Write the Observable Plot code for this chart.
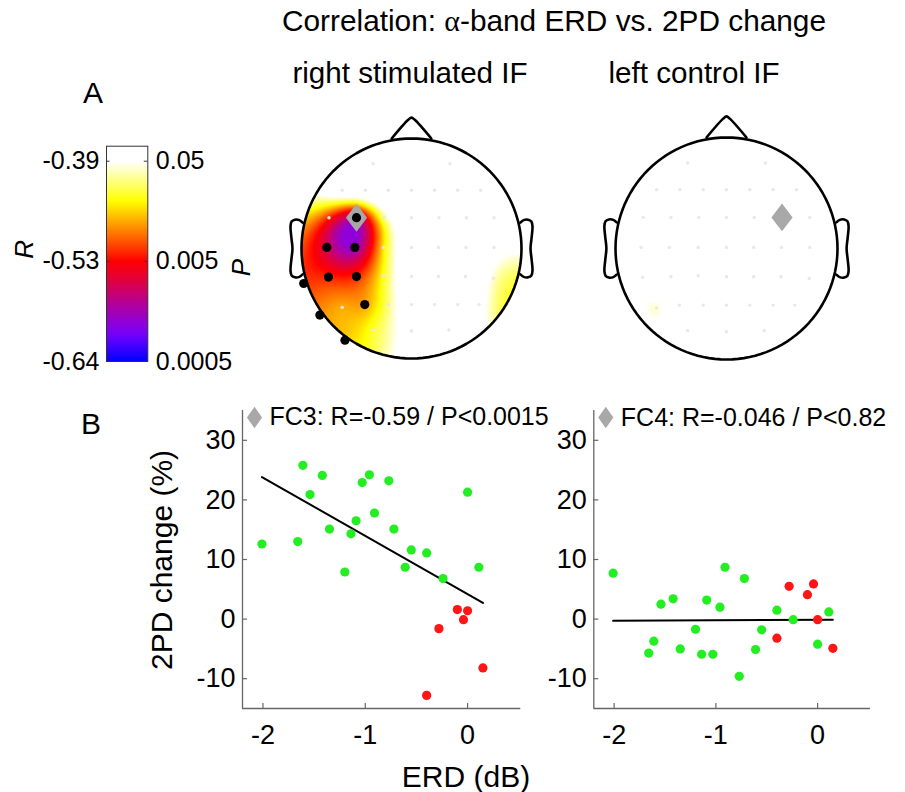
<!DOCTYPE html>
<html>
<head>
<meta charset="utf-8">
<script src="https://cdn.jsdelivr.net/npm/d3@7"></script>
<script src="https://cdn.jsdelivr.net/npm/@observablehq/plot@0.6"></script>
<style>
  body { margin: 0; background: #fff; }
  #fig { position: relative; width: 905px; height: 792px; overflow: hidden; background: #fff;
         font-family: "Liberation Sans", Arial, sans-serif; color: #000; }
  .t { position: absolute; white-space: nowrap; line-height: 1; }
  .c { transform: translateX(-50%); }
  .rot { transform: translate(-50%, -50%) rotate(-90deg); }
  .p { position: absolute; }
  .p svg { overflow: visible; display: block; }
  .greek { font-family: "Liberation Serif", "DejaVu Serif", serif; }
</style>
</head>
<body>
<div id="fig"></div>
<script>
// ---------------- data ----------------
// scatter (26 subjects, sorted by ERD)
const erd = [-2.01,-1.66,-1.61,-1.54,-1.42,-1.35,-1.20,-1.14,-1.09,-1.03,-0.96,-0.91,-0.77,-0.72,-0.61,-0.55,-0.40,-0.24,0.00,0.11,
             -0.40,-0.28,-0.10,-0.04,0.00,0.15];
const subjectGroup = ["g","g","g","g","g","g","g","g","g","g","g","g","g","g","g","g","g","g","g","g",
                      "r","r","r","r","r","r"];
const changeStimulated = [12.6,13.0,25.8,20.9,24.1,15.1,7.9,14.3,16.5,22.9,24.2,17.8,23.2,15.1,8.7,11.6,11.1,6.8,21.3,8.7,
                          -12.8,-1.6,1.6,-0.1,1.4,-8.2];
const changeControl = [7.7,-5.7,-3.7,2.5,3.4,-5.0,-1.7,-5.9,3.2,-5.9,2.0,8.7,-9.6,6.8,-5.1,-1.8,1.5,-0.1,-4.2,1.2,
                       -3.2,5.5,4.1,5.9,-0.1,-4.9];
const xTicks = [-2, -1, 0];
const xTickLabels = ["-2", "-1", "0"];
const yTicks = [-10, 0, 10, 20, 30];
const yTickLabels = ["-10", "0", "10", "20", "30"];
const statLabels = ["FC3: R=-0.59 / P<0.0015", "FC4: R=-0.046 / P<0.82"];
const panelTitles = ["right stimulated IF", "left control IF"];

// electrodes (head-radius units, x = right, y = front)
const electrodeNames = ["AF3","AF4",
  "F5","F3","F1","Fz","F2","F4","F6",
  "FC5","FC3","FC1","FCz","FC2","FC4","FC6",
  "C5","C3","C1","Cz","C2","C4","C6",
  "CP5","CP3","CP1","CPz","CP2","CP4","CP6",
  "P5","P3","P1","Pz","P2","P4","P6",
  "PO3","POz","PO4",
  "Fp1","Fpz","Fp2","AF7","AF8","F7","F8","FT7","FT8","T7","T8","TP7","TP8","P7","P8","PO7","PO8","O1","Oz","O2"];
const electrodeX = [-0.35,0.35,
  -0.63,-0.42,-0.21,0,0.21,0.42,0.63,
  -0.75,-0.5,-0.25,0,0.25,0.5,0.75,
  -0.77,-0.515,-0.255,0,0.245,0.495,0.75,
  -0.755,-0.5,-0.255,0,0.245,0.49,0.745,
  -0.63,-0.425,-0.21,0,0.21,0.42,0.615,
  -0.35,0,0.34,
  -0.318,0,0.318,-0.605,0.605,-0.833,0.833,-0.98,0.98,-1.03,1.03,-0.98,0.98,-0.833,0.833,-0.605,0.605,-0.318,0,0.318];
const electrodeY = [0.77,0.77,
  0.53,0.53,0.53,0.53,0.53,0.53,0.53,
  0.28,0.28,0.28,0.28,0.28,0.28,0.28,
  0.01,0.01,0.01,0.01,0.01,0.01,0.01,
  -0.26,-0.255,-0.245,-0.255,-0.255,-0.255,-0.27,
  -0.535,-0.51,-0.51,-0.51,-0.51,-0.51,-0.51,
  -0.74,-0.75,-0.74,
  0.98,1.03,0.98,0.833,0.833,0.605,0.605,0.318,0.318,0,0,-0.318,-0.318,-0.605,-0.605,-0.833,-0.833,-0.98,-1.03,-0.98];
// p value of the correlation at each electrode
const pStimulated = [0.3,0.4,
  0.15,0.18,0.25,0.35,0.4,0.35,0.3,
  0.006,0.0012,0.035,0.15,0.3,0.35,0.2,
  0.003,0.0012,0.02,0.13,0.3,0.25,0.07,
  0.0065,0.0065,0.022,0.12,0.25,0.18,0.04,
  0.014,0.011,0.03,0.12,0.22,0.15,0.07,
  0.025,0.08,0.15,
  0.3,0.4,0.4,0.2,0.3,0.09,0.2,0.02,0.15,0.008,0.06,0.0065,0.025,0.011,0.025,0.015,0.08,0.029,0.1,0.15];
const pControl = [0.45,0.6,
  0.35,0.5,0.7,0.85,0.75,0.6,0.55,
  0.3,0.55,0.8,0.9,0.7,0.82,0.6,
  0.2,0.4,0.65,0.85,0.7,0.75,0.5,
  0.1,0.25,0.5,0.7,0.6,0.55,0.4,
  0.032,0.13,0.35,0.55,0.5,0.45,0.35,
  0.2,0.45,0.4,
  0.5,0.7,0.65,0.4,0.5,0.35,0.45,0.3,0.4,0.2,0.35,0.13,0.3,0.087,0.3,0.087,0.35,0.25,0.4,0.45];
const significantStimulated = ["FC3","C5","C3","CP5","CP3","P3","TP7","P7","PO7"];
const significantControl = [];
const markedElectrodes = ["FC3", "FC4"];

// colour bar
const pTicks = [0.05, 0.005, 0.0005];
const pTickLabels = ["0.05", "0.005", "0.0005"];
const rTickLabels = ["-0.39", "-0.53", "-0.64"];
const colorStopP = [0.0005, 0.00087, 0.0011, 0.0018, 0.0032, 0.005, 0.02, 0.05];
const colorStopColors = ["#0000ff", "#6a00ff", "#8800e8", "#b000a0", "#e00040", "#ff0000", "#ffff00", "#ffffff"];
const pTop = 0.0706;

// head outline shape (head-radius units)
const noseX = [-0.18, -0.03, 0, 0.03, 0.18];
const noseY = [1.0, 1.17, 1.19, 1.17, 1.0];
const earX = [0.99, 1.02, 1.06, 1.09, 1.10, 1.092, 1.082, 1.092, 1.10, 1.09, 1.06, 1.02, 0.99];
const earY = [0.235, 0.258, 0.262, 0.245, 0.2, 0.1, 0, -0.1, -0.2, -0.245, -0.262, -0.258, -0.235];

// ---------------- helpers ----------------
const FONT = '"Liberation Sans", Arial, sans-serif';
const colorScale = {type: "linear", domain: colorStopP.map(Math.log10), range: colorStopColors, clamp: true, interpolate: "rgb"};

function diamondSymbol(ratio) {
  return {draw(context, size) {
    const h = Math.sqrt(size / (2 * ratio)), w = h * ratio;
    context.moveTo(0, -h); context.lineTo(w, 0); context.lineTo(0, h); context.lineTo(-w, 0); context.closePath();
  }};
}

// biharmonic spline interpolation (regularised to damp ringing)
function biharmonic(xs, ys, vs, lambda = 0.02) {
  const n = xs.length;
  const g = (d) => d < 1e-12 ? 0 : d * d * (Math.log(d) - 1);
  const A = [];
  for (let i = 0; i < n; i++) {
    const row = new Float64Array(n + 1);
    for (let j = 0; j < n; j++) row[j] = g(Math.hypot(xs[i] - xs[j], ys[i] - ys[j]));
    row[i] += lambda;
    row[n] = vs[i];
    A.push(row);
  }
  for (let c = 0; c < n; c++) {
    let piv = c;
    for (let r = c + 1; r < n; r++) if (Math.abs(A[r][c]) > Math.abs(A[piv][c])) piv = r;
    [A[c], A[piv]] = [A[piv], A[c]];
    for (let r = 0; r < n; r++) {
      if (r === c) continue;
      const f = A[r][c] / A[c][c];
      if (f === 0) continue;
      for (let k = c; k <= n; k++) A[r][k] -= f * A[c][k];
    }
  }
  const w = A.map((row, i) => row[n] / row[i]);
  const lo = Math.min(...vs), hi = Math.max(...vs);
  return (x, y) => {
    let s = 0;
    for (let j = 0; j < n; j++) s += w[j] * g(Math.hypot(x - xs[j], y - ys[j]));
    return Math.max(lo, Math.min(hi, s));
  };
}

const fig = document.getElementById("fig");
function place(node, left, top) {
  const d = document.createElement("div");
  d.className = "p";
  d.style.left = left + "px";
  d.style.top = top + "px";
  d.appendChild(node);
  fig.appendChild(d);
}
function label(html, x, capCenter, fs, centered) {
  const d = document.createElement("div");
  d.className = "t" + (centered ? " c" : "");
  d.style.left = x + "px";
  d.style.top = (capCenter - 0.4885 * fs) + "px";
  d.style.fontSize = fs + "px";
  d.innerHTML = html;
  fig.appendChild(d);
}
function vlabel(text, cx, cy, fs) {
  const d = document.createElement("div");
  d.className = "t rot";
  d.style.left = cx + "px";
  d.style.top = cy + "px";
  d.style.fontSize = fs + "px";
  d.textContent = text;
  fig.appendChild(d);
}

// ---------------- texts ----------------
label('Correlation: <span class="greek">α</span>-band ERD vs. 2PD change', 554, 21, 29.8, true);
label(panelTitles[0], 410, 72, 29.6, true);
label(panelTitles[1], 694, 72, 29.6, true);
label("A", 83, 93, 30, false);
label("B", 81, 424, 30, false);
label("ERD (dB)", 466, 777, 30, true);
vlabel("2PD change (%)", 162, 560, 30);

// ---------------- colour bar ----------------
{
  const yDom = [Math.log10(pTicks[2]), Math.log10(pTop)];
  const fw = 41.3;
  const logTicks = pTicks.map(Math.log10);
  const idx = (d) => logTicks.findIndex((t) => Math.abs(t - d) < 1e-9);
  const cb = Plot.plot({
    width: 270, height: 250,
    marginLeft: 106, marginRight: 270 - 106 - fw, marginTop: 15.7, marginBottom: 19,
    style: {background: "transparent", overflow: "visible", fontFamily: FONT},
    x: {domain: [0, 1], axis: null},
    y: {domain: yDom, axis: null},
    color: colorScale,
    marks: [
      Plot.raster({x1: 0, x2: 1, y1: yDom[0], y2: yDom[1], width: 2, height: 215, fill: (x, y) => y}),
      Plot.frame({stroke: "#333", strokeWidth: 1}),
      Plot.tickY(logTicks, {y: (d) => d, insetRight: fw - 3.5, stroke: "#333"}),
      Plot.tickY(logTicks, {y: (d) => d, insetLeft: fw - 3.5, stroke: "#333"}),
      Plot.axisY({ticks: logTicks, anchor: "left", tickSize: 0, tickPadding: 7, fontSize: 25, label: null,
                  tickFormat: (d) => rTickLabels[idx(d)]}),
      Plot.axisY({ticks: logTicks, anchor: "right", tickSize: 0, tickPadding: 8, fontSize: 25, label: null,
                  tickFormat: (d) => pTickLabels[idx(d)]}),
      Plot.text(["R"], {text: (d) => d, frameAnchor: "left", dx: -82, dy: 5, rotate: -90, fontSize: 26, fontStyle: "italic"}),
      Plot.text(["P"], {text: (d) => d, frameAnchor: "right", dx: 94, dy: 5, rotate: -90, fontSize: 26, fontStyle: "italic"})
    ]
  });
  place(cb, 0, 130);
}

// ---------------- topographic maps ----------------
const circlePts = d3.range(0, 361, 3).map((a) => ({x: Math.cos(a * Math.PI / 180), y: Math.sin(a * Math.PI / 180)}));
const nose = noseX.map((x, i) => ({x, y: noseY[i]}));
const earRight = earX.map((x, i) => ({x, y: earY[i]}));
const earLeft = earX.map((x, i) => ({x: -x, y: earY[i]}));

function topomap(pValues, significant, marked, r) {
  const half = 135 / r;
  const f = biharmonic(electrodeX, electrodeY, pValues.map(Math.log10));
  const elec = electrodeNames.map((name, i) => ({name, x: electrodeX[i], y: electrodeY[i]}));
  const sig = elec.filter((d) => significant.includes(d.name));
  const nonSig = elec.filter((d) => !significant.includes(d.name) && Math.hypot(d.x, d.y) < 1);
  const mark = elec.filter((d) => d.name === marked);
  return Plot.plot({
    width: 270, height: 270, margin: 0,
    style: {background: "transparent", overflow: "visible"},
    x: {domain: [-half, half], axis: null},
    y: {domain: [-half, half], axis: null},
    color: colorScale,
    marks: [
      Plot.raster({x1: -1, x2: 1, y1: -1, y2: 1, width: 160, height: 160,
                   fill: (x, y) => (x * x + y * y <= 1.0 ? f(x, y) : 0)}),
      Plot.line(circlePts, {x: "x", y: "y", stroke: "black", strokeWidth: 2.6}),
      Plot.line(nose, {x: "x", y: "y", stroke: "black", strokeWidth: 2.6, curve: "catmull-rom"}),
      Plot.line(earRight, {x: "x", y: "y", stroke: "black", strokeWidth: 2.6, curve: "catmull-rom"}),
      Plot.line(earLeft, {x: "x", y: "y", stroke: "black", strokeWidth: 2.6, curve: "catmull-rom"}),
      Plot.dot(nonSig, {x: "x", y: "y", r: 1.7, fill: "#e8e8e8"}),
      Plot.dot(mark, {x: "x", y: "y", r: 9.7, symbol: diamondSymbol(0.76), fill: "#a8a8a8"}),
      Plot.dot(sig, {x: "x", y: "y", r: 4.6, fill: "black"})
    ]
  });
}
place(topomap(pStimulated, significantStimulated, markedElectrodes[0], 110), 410.7 - 135, 248.3 - 135);
place(topomap(pControl, significantControl, markedElectrodes[1], 111), 725.5 - 135, 248.3 - 135);

// ---------------- scatter plots ----------------
function scatter(yValues, stat, marginLeft, plotW) {
  const plotH = 298, marginTop = 30, marginRight = 10, marginBottom = 84;
  const data = erd.map((x, i) => ({erd: x, change: yValues[i], group: subjectGroup[i]}));
  const xDom = [-2.2, 0.52], yDom = [-15, 35];
  return Plot.plot({
    width: marginLeft + plotW + marginRight, height: marginTop + plotH + marginBottom,
    marginLeft, marginRight, marginTop, marginBottom,
    style: {background: "transparent", overflow: "visible", fontFamily: FONT},
    x: {domain: xDom, label: null},
    y: {domain: yDom, label: null},
    color: {type: "ordinal", domain: ["g", "r"], range: ["#22ee22", "#ff1515"]},
    marks: [
      Plot.ruleX([xDom[0]], {stroke: "#666", strokeWidth: 1.3}),
      Plot.ruleY([yDom[0]], {stroke: "#666", strokeWidth: 1.3}),
      Plot.tickX(xTicks, {x: (d) => d, insetTop: plotH - 5, stroke: "#666", strokeWidth: 1.2}),
      Plot.tickY(yTicks, {y: (d) => d, insetRight: plotW - 5, stroke: "#666", strokeWidth: 1.2}),
      Plot.axisX({ticks: xTicks, tickSize: 0, tickPadding: 16, fontSize: 27, label: null,
                  tickFormat: (d) => xTickLabels[xTicks.indexOf(d)]}),
      Plot.axisY({ticks: yTicks, tickSize: 0, tickPadding: 7, fontSize: 27, label: null,
                  tickFormat: (d) => yTickLabels[yTicks.indexOf(d)]}),
      Plot.linearRegressionY(data, {x: "erd", y: "change", ci: 0, stroke: "black", strokeWidth: 2}),
      Plot.dot(data, {x: "erd", y: "change", fill: "group", r: 4.6}),
      Plot.dot([stat], {frameAnchor: "top-left", dx: 12, dy: 7, r: 7.2, symbol: diamondSymbol(0.7), fill: "#a8a8a8"}),
      Plot.text([stat], {text: (d) => d, frameAnchor: "top-left", dx: 27, dy: 7, textAnchor: "start", lineAnchor: "middle", fontSize: 25})
    ]
  });
}
place(scatter(changeStimulated, statLabels[0], 112, 278.3), 130, 380);
place(scatter(changeControl, statLabels[1], 113.3, 276.7), 480, 380);
</script>
</body>
</html>
